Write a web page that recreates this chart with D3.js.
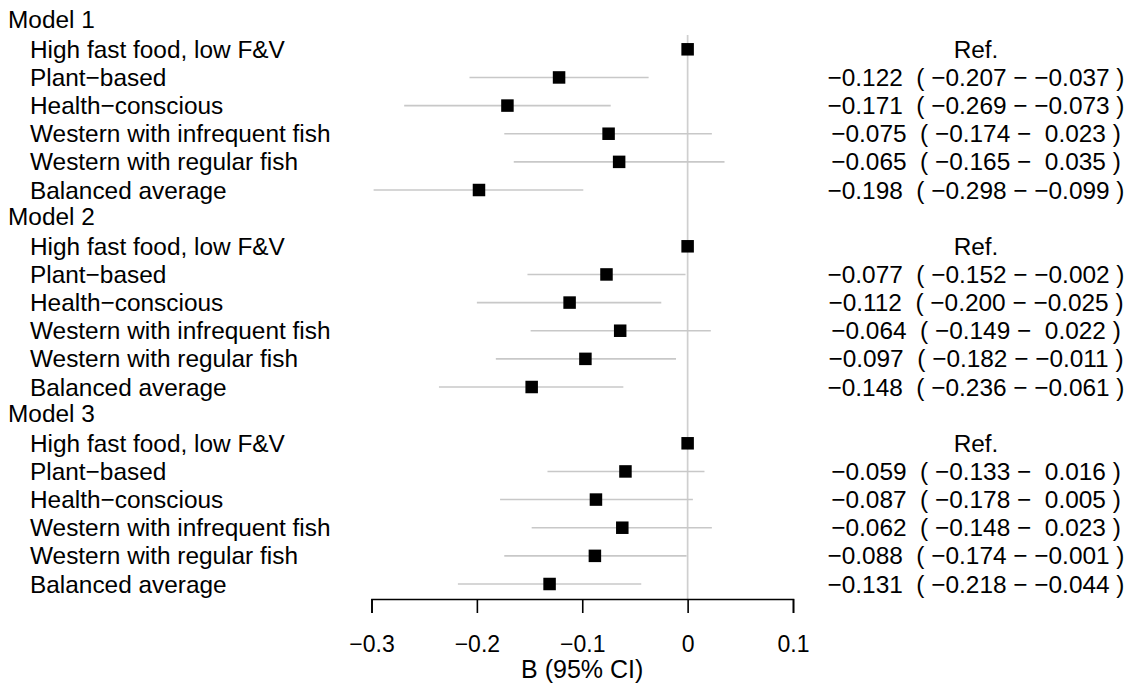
<!DOCTYPE html>
<html>
<head>
<meta charset="UTF-8">
<title>Forest plot</title>
<script src="https://cdn.jsdelivr.net/npm/d3@7"></script>
<style>
    body { margin: 0; background: #fff; }
    svg { display: block; }
    text { font-family: "Liberation Sans", Arial, sans-serif; font-size: 24.4px; fill: #000; }
    .tick text { font-size: 23px; }
    .title { font-size: 25px; }
</style>
</head>
<body>
<script>
    // data
    var models = ["Model 1", "Model 2", "Model 3"];
    var patterns = ["High fast food, low F&V", "Plant\u2212based", "Health\u2212conscious",
        "Western with infrequent fish", "Western with regular fish", "Balanced average"];

    var est1 = [0, -0.122, -0.171, -0.075, -0.065, -0.198];
    var lo1  = [null, -0.207, -0.269, -0.174, -0.165, -0.298];
    var hi1  = [null, -0.037, -0.073, 0.023, 0.035, -0.099];

    var est2 = [0, -0.077, -0.112, -0.064, -0.097, -0.148];
    var lo2  = [null, -0.152, -0.200, -0.149, -0.182, -0.236];
    var hi2  = [null, -0.002, -0.025, 0.022, -0.011, -0.061];

    var est3 = [0, -0.059, -0.087, -0.062, -0.088, -0.131];
    var lo3  = [null, -0.133, -0.178, -0.148, -0.174, -0.218];
    var hi3  = [null, 0.016, 0.005, 0.023, -0.001, -0.044];

    var xTicks = [-0.3, -0.2, -0.1, 0, 0.1];
    var xTitle = "B (95% CI)";

    var W = 1132, H = 685;
    var fmt = d3.format(".3f");
    var minus = function(v) { return fmt(v).replace("-", "\u2212"); };

    // build row list: header rows + item rows
    var rows = [];
    var sets = [[est1, lo1, hi1], [est2, lo2, hi2], [est3, lo3, hi3]];
    models.forEach(function(m, k) {
        rows.push({ header: true, label: m });
        patterns.forEach(function(p, j) {
            var e = sets[k][0][j], l = sets[k][1][j], h = sets[k][2][j];
            rows.push({
                header: false, label: p, est: e, lo: l, hi: h,
                txt: l === null ? "Ref." :
                    minus(e) + "  ( " + minus(l) + " \u2212 " + (h < 0 ? minus(h) : " " + fmt(h)) + " )"
            });
        });
    });

    var x = d3.scaleLinear().domain([-0.3, 0.1]).range([371.5, 793]);
    var y = d3.scaleLinear().domain([1, rows.length - 1]).range([49.3, 584]);

    var svg = d3.select("body").append("svg")
        .attr("width", W)
        .attr("height", H);

    // zero line
    svg.append("line")
        .attr("x1", x(0)).attr("x2", x(0))
        .attr("y1", 35).attr("y2", 599)
        .attr("stroke", "#cfcfcf")
        .attr("stroke-width", 1.7);

    var g = svg.selectAll(".row")
        .data(rows)
        .enter().append("g")
        .attr("class", "row")
        .attr("transform", function(d, i) { return "translate(0," + (y(i) - (d.header ? 2 : 0)) + ")"; });

    g.append("text")
        .attr("x", function(d) { return d.header ? 8 : 30; })
        .attr("dy", "0.35em")
        .text(function(d) { return d.label; });

    var items = g.filter(function(d) { return !d.header; });

    items.filter(function(d) { return d.lo !== null; })
        .append("line")
        .attr("x1", function(d) { return x(d.lo); })
        .attr("x2", function(d) { return x(d.hi); })
        .attr("stroke", "#c8c8c8")
        .attr("stroke-width", 1.6);

    var box = 12.5;
    items.append("rect")
        .attr("x", function(d) { return x(d.est) - box / 2; })
        .attr("y", -box / 2)
        .attr("width", box)
        .attr("height", box)
        .attr("fill", "#000");

    items.append("text")
        .attr("x", 976)
        .attr("dy", "0.35em")
        .attr("text-anchor", "middle")
        .style("white-space", "pre")
        .text(function(d) { return d.txt; });

    // x axis
    var axis = d3.axisBottom(x)
        .tickValues(xTicks)
        .tickSize(14)
        .tickFormat(function(v) { return v === 0 ? "0" : d3.format(".1f")(v).replace("-", "\u2212"); });

    var ax = svg.append("g")
        .attr("transform", "translate(0,599)")
        .call(axis);
    ax.select(".domain").attr("stroke", "#000").attr("stroke-width", 1.6);
    ax.selectAll(".tick line").attr("stroke", "#000").attr("stroke-width", 1.6);
    ax.attr("font-family", null).attr("font-size", null);
    ax.selectAll(".tick text")
        .attr("y", 53)
        .attr("dy", "0");

    svg.append("text")
        .attr("class", "title")
        .attr("x", (x(-0.3) + x(0.1)) / 2)
        .attr("y", 678)
        .attr("text-anchor", "middle")
        .text(xTitle);
</script>
</body>
</html>
